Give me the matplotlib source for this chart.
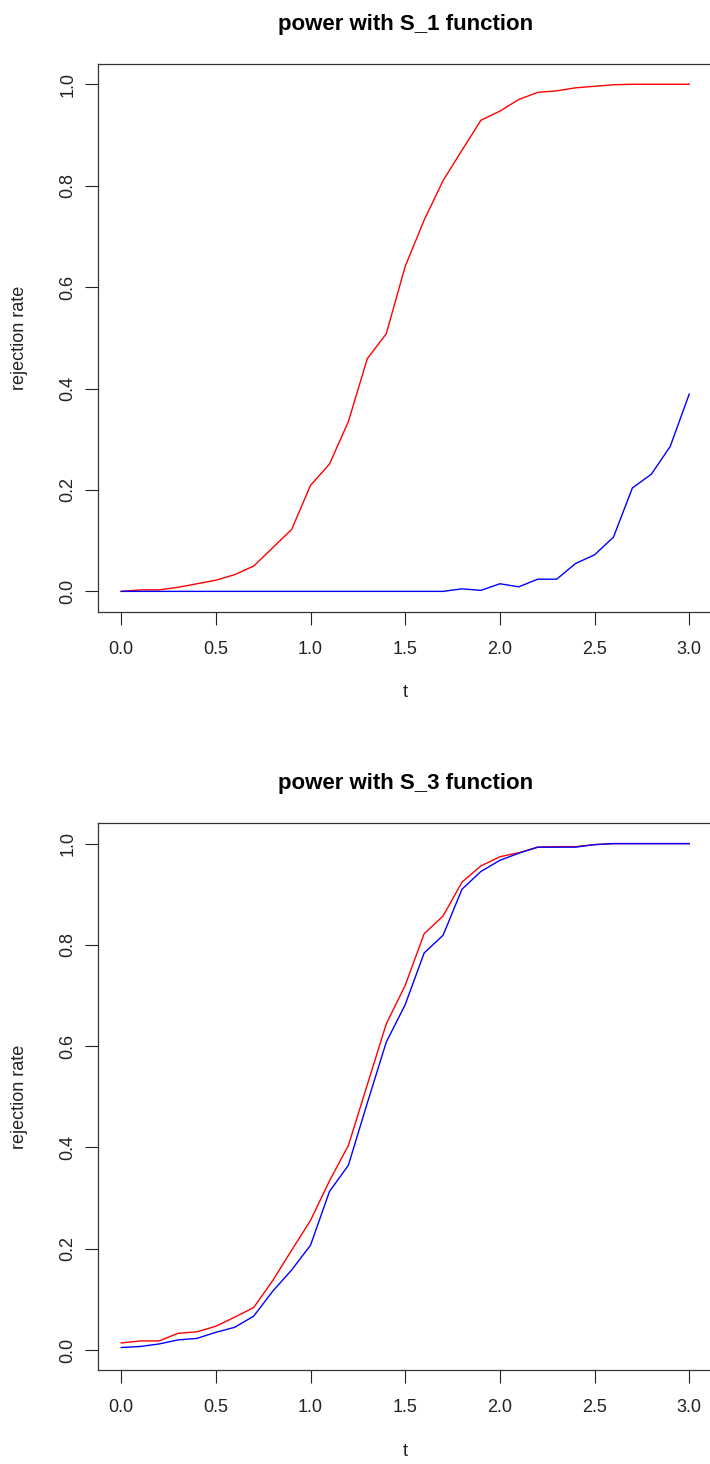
import matplotlib
matplotlib.use('Agg')
import matplotlib.pyplot as plt

plt.rcParams['font.family'] = ['Liberation Sans', 'DejaVu Sans']
plt.rcParams['font.size'] = 13

t = [0.0, 0.1, 0.2, 0.3, 0.4, 0.5, 0.6, 0.7, 0.8, 0.9,
     1.0, 1.1, 1.2, 1.3, 1.4, 1.5, 1.6, 1.7, 1.8, 1.9,
     2.0, 2.1, 2.2, 2.3, 2.4, 2.5, 2.6, 2.7, 2.8, 2.9, 3.0]

# power with S_1
s1_red = [0.0, 0.003, 0.003, 0.008, 0.015, 0.022, 0.033, 0.050, 0.086, 0.122,
          0.209, 0.251, 0.335, 0.459, 0.508, 0.641, 0.732, 0.810, 0.870, 0.929,
          0.947, 0.970, 0.984, 0.987, 0.993, 0.996, 0.999, 1.0, 1.0, 1.0, 1.0]
s1_blue = [0.0, 0.0, 0.0, 0.0, 0.0, 0.0, 0.0, 0.0, 0.0, 0.0,
           0.0, 0.0, 0.0, 0.0, 0.0, 0.0, 0.0, 0.0, 0.005, 0.002,
           0.015, 0.009, 0.024, 0.024, 0.055, 0.072, 0.107, 0.204, 0.231, 0.286, 0.389]

# power with S_3
s3_red = [0.014, 0.018, 0.018, 0.033, 0.036, 0.047, 0.065, 0.084, 0.137, 0.197,
          0.256, 0.334, 0.404, 0.524, 0.644, 0.720, 0.822, 0.857, 0.924, 0.956,
          0.974, 0.982, 0.993, 0.994, 0.994, 0.998, 1.0, 1.0, 1.0, 1.0, 1.0]
s3_blue = [0.005, 0.007, 0.012, 0.020, 0.023, 0.035, 0.045, 0.067, 0.116, 0.158,
           0.207, 0.313, 0.365, 0.488, 0.608, 0.682, 0.784, 0.819, 0.910, 0.945,
           0.967, 0.981, 0.993, 0.993, 0.993, 0.998, 1.0, 1.0, 1.0, 1.0, 1.0]

xticks = [0.0, 0.5, 1.0, 1.5, 2.0, 2.5, 3.0]
yticks = [0.0, 0.2, 0.4, 0.6, 0.8, 1.0]


def panel(ax, red, blue, title):
    ax.plot(t, red, c='#ff0000', lw=1.0)
    ax.plot(t, blue, c='#0000ff', lw=1.0)
    ax.set_xlim(-0.12, 3.12)
    ax.set_ylim(-0.04, 1.04)
    ax.set_xticks(xticks)
    ax.set_xticklabels(['%.1f' % v for v in xticks])
    ax.set_yticks(yticks)
    ax.set_yticklabels(['%.1f' % v for v in yticks], rotation=90, va='center')
    ax.tick_params(direction='out', length=9.4, width=0.8, colors='#222222',
                   labelcolor='#222222', labelsize=13)
    ax.tick_params(axis='x', pad=11.5)
    ax.tick_params(axis='y', pad=6.5)
    for s in ax.spines.values():
        s.set_linewidth(0.9)
        s.set_color('#333333')
    ax.set_title(title, fontsize=16, fontweight='bold', pad=24.5)
    ax.set_xlabel('t', fontsize=13, color='#222222')
    ax.set_ylabel('rejection rate', fontsize=13, color='#222222')
    ax.xaxis.set_label_coords(0.5, -0.132)
    ax.yaxis.set_label_coords(-0.115, 0.5)


fig = plt.figure(figsize=(7.1, 14.64), dpi=100)
ax1 = fig.add_axes([0.1387, 0.5822, 0.864, 0.3741])
ax2 = fig.add_axes([0.1387, 0.0640, 0.864, 0.3736])
panel(ax1, s1_red, s1_blue, 'power with S_1 function')
panel(ax2, s3_red, s3_blue, 'power with S_3 function')

plt.savefig('out.png', dpi=100)
